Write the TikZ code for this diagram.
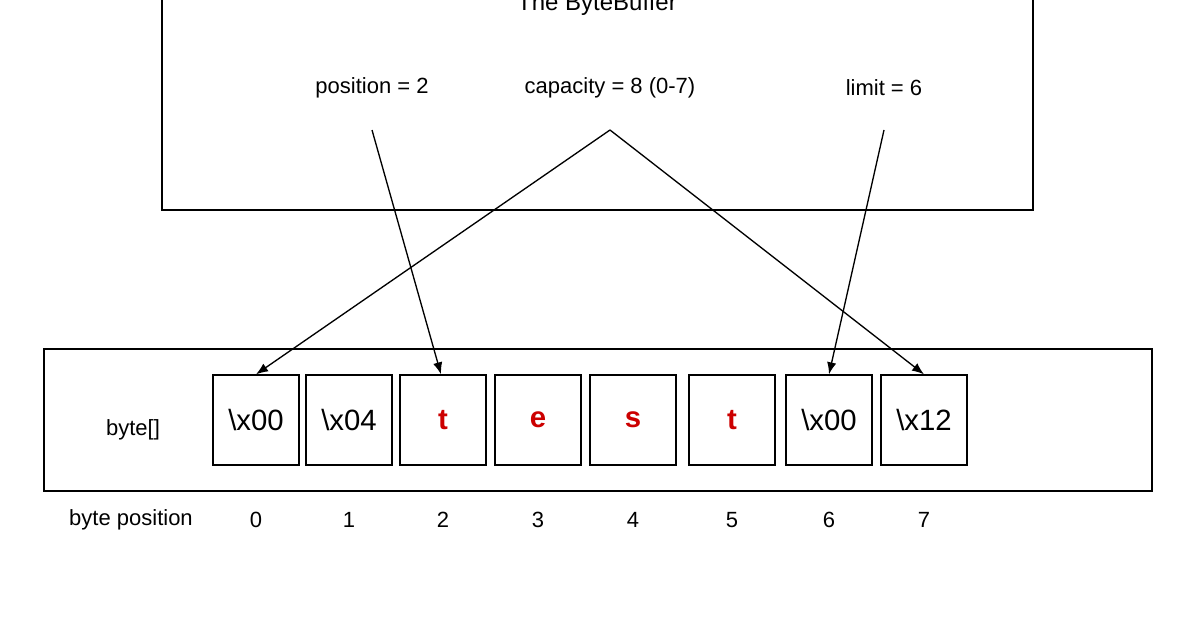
\documentclass[tikz,border=0pt]{standalone}
\usepackage{fontspec}
\setmainfont{Liberation Sans}
\usetikzlibrary{arrows.meta}
\begin{document}
\begin{tikzpicture}[x=0.75pt,y=-0.75pt,
  lbl/.style={font=\fontsize{16.5}{19}\selectfont},
  cell/.style={draw,line width=1pt,minimum width=64.5pt,minimum height=67.5pt,inner sep=0pt,font=\fontsize{22}{26}\selectfont},
  arr/.style={-{Latex[length=9pt,width=7pt]},line width=1pt}]
\useasboundingbox (0,0) rectangle (1196,628);
\draw[line width=1pt] (162,-10) -- (162,210) -- (1033,210) -- (1033,-10);
\node[font=\fontsize{18}{22}\selectfont] (title) at (597,4) {The ByteBuffer};
\node[lbl] (pos) at (372,88) {position = 2};
\node[lbl] (cap) at (610,88) {capacity = 8 (0-7)};
\node[lbl] (lim) at (884,88) {limit = 6};
\coordinate (ps) at (372,130);
\coordinate (cs) at (610,130);
\coordinate (ls) at (884,130);
\draw[line width=1pt] (44,349) rectangle (1152,491);
\node[lbl] (bt) at (133,430) {byte[]};
\node[lbl] (bp) at (131,520) {byte position};
\foreach \i/\x/\t in {0/256/{\textbackslash x00},1/349/{\textbackslash x04},2/443/{\textcolor[rgb]{0.8,0,0}{\textbf{t}}},3/538/{\textcolor[rgb]{0.8,0,0}{\textbf{e}}},4/633/{\textcolor[rgb]{0.8,0,0}{\textbf{s}}},5/732/{\textcolor[rgb]{0.8,0,0}{\textbf{t}}},6/829/{\textbackslash x00},7/924/{\textbackslash x12}}{
  \node[cell] (c\i) at (\x,420) {\t};
  \node[lbl] (n\i) at (\x,520) {\i};
}
\draw[arr] (ps) -- ([xshift=-1.5pt]c2.north);
\draw[arr] (cs) -- (c0.north);
\draw[arr] (cs) -- (c7.north);
\draw[arr] (ls) -- (c6.north);
\end{tikzpicture}
\end{document}
